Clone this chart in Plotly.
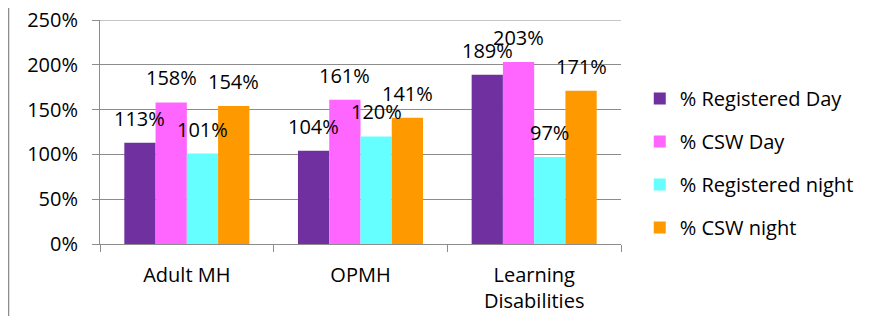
import plotly.graph_objects as go

categories = ["Adult MH", "OPMH", "Learning<br>Disabilities"]
series_names = ["% Registered Day", "% CSW Day", "% Registered night", "% CSW night"]
registered_day = [113, 104, 189]
csw_day = [158, 161, 203]
registered_night = [101, 120, 97]
csw_night = [154, 141, 171]
series_values = [registered_day, csw_day, registered_night, csw_night]
colors = ["#7030A0", "#FF66FF", "#66FFFF", "#FF9900"]
y_ticks = [0, 50, 100, 150, 200, 250]

FONT = "Open Sans"
FS = 20
GRID = "#8C8C8C"
bargap = 0.28

fig = go.Figure()
for i, (name, vals, col) in enumerate(zip(series_names, series_values, colors)):
    fig.add_trace(go.Bar(
        x=categories, y=vals, name=name, marker=dict(color=col, line=dict(width=0)),
        legendgroup=name,
    ))

n = len(series_names)
w = (1 - bargap) / n
annotations = []
for i, vals in enumerate(series_values):
    for j, v in enumerate(vals):
        annotations.append(dict(
            x=j + (i - (n - 1) / 2) * w, y=v, xref="x", yref="y",
            text=f"{v}%", showarrow=False, yanchor="bottom", yshift=9,
            font=dict(family=FONT, size=FS, color="black"),
        ))

# page body has an 8px margin, so the figure is 8px smaller and offset
fig.update_layout(
    width=873, height=308,
    margin=dict(l=92, r=260, t=12, b=72, autoexpand=False),
    paper_bgcolor="white", plot_bgcolor="white",
    barmode="group", bargap=bargap, bargroupgap=0,
    font=dict(family=FONT, size=FS, color="black"),
    showlegend=True,
    legend=dict(x=1.036, y=0.3616, xanchor="left", yanchor="middle",
                font=dict(family=FONT, size=FS), traceorder="grouped",
                tracegroupgap=14, itemwidth=30),
    annotations=annotations,
    shapes=[
        dict(type="line", xref="paper", yref="paper",
             x0=-0.1756, x1=-0.1756, y0=-0.4, y1=1.2,
             line=dict(color=GRID, width=1.5)),
        # top gridline (plotly drops the gridline at the very edge of the range)
        dict(type="line", xref="paper", yref="y", x0=0, x1=1,
             y0=y_ticks[-1], y1=y_ticks[-1], layer="below",
             line=dict(color=GRID, width=1)),
    ],
)
fig.update_xaxes(
    type="category", showline=True, linecolor=GRID, linewidth=1,
    ticks="outside", tickson="boundaries", ticklen=7, tickcolor=GRID,
    ticklabelstandoff=13, showgrid=False, automargin=False,
    ticklabeloverflow="allow",
)
fig.update_yaxes(
    range=[0, 250], tickvals=y_ticks, ticktext=[f"{t}%" for t in y_ticks],
    showline=True, linecolor=GRID, linewidth=1, ticks="outside", ticklen=7,
    tickcolor=GRID, showgrid=True, gridcolor=GRID, gridwidth=1,
    ticklabelstandoff=10, zeroline=False, automargin=False,
    ticklabeloverflow="allow",
)

fig.write_html("out.html")
